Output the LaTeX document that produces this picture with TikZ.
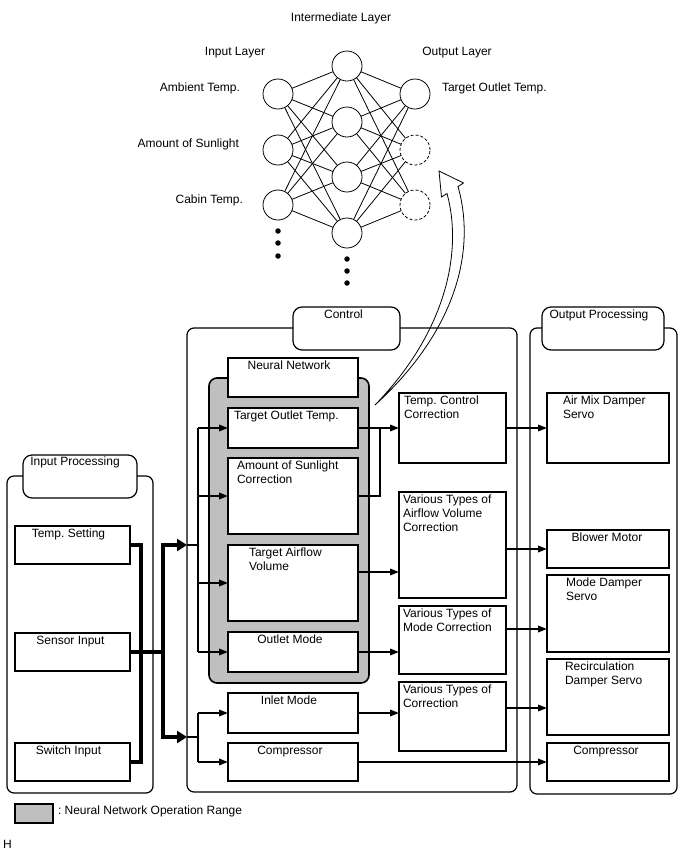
\documentclass[tikz,border=0pt]{standalone}
\usepackage{fontspec}
\setmainfont{Liberation Sans}
\usetikzlibrary{arrows.meta,positioning}
\colorlet{nnRange}{black!25}
\frenchspacing

\begin{document}
\begin{tikzpicture}[
  x=1pt, y=-1pt,
  font=\fontsize{12}{14}\selectfont,
  every node/.style={inner sep=0pt, outer sep=0pt},
  neuron/.style={circle, draw, line width=0.8pt, fill=white, minimum size=30pt},
  dot/.style={circle, fill=black, minimum size=5.5pt},
  panel/.style={draw, line width=1.2pt, rounded corners=7pt, anchor=north west},
  tab/.style={panel, fill=white, rounded corners=9pt},
  blk/.style={draw, line width=1.4pt, fill=white, anchor=north west},
  txt/.style={anchor=north west, align=left},
  ctxt/.style={anchor=north, align=center},
  syn/.style={line width=0.8pt},
  link/.style={line width=1.8pt},
  arr/.style={link, -{Triangle[length=9pt,width=6.5pt]}},
  fat/.style={line width=4pt},
  fatarr/.style={fat, -{Triangle[length=10pt,width=12pt]}},
]
\useasboundingbox (0,0) rectangle (688,852);

% neural network
\node[anchor=base] (t-mid) at (341,21) {Intermediate Layer};
\node[anchor=base] (t-in) at (235,55) {Input Layer};
\node[anchor=base] (t-out) at (457,55) {Output Layer};
\foreach \y [count=\k] in {94,150,205} \node[neuron] (i\k) at (278,\y) {};
\foreach \y [count=\k] in {66,122,177,233} \node[neuron] (h\k) at (347,\y) {};
\node[neuron] (o1) at (415,94) {};
\node[neuron, dash pattern=on 3pt off 2pt] (o2) at (415,150) {};
\node[neuron, dash pattern=on 3pt off 2pt] (o3) at (415,205) {};
\foreach \a in {1,2,3}
  \foreach \b in {1,...,4} \draw[syn] (i\a) -- (h\b);
\foreach \b in {1,...,4}
  \foreach \c in {1,2,3} \draw[syn] (h\b) -- (o\c);
\foreach \y [count=\k] in {231,243,256} \node[dot] (di\k) at (278,\y) {};
\foreach \y [count=\k] in {259,271,283} \node[dot] (dh\k) at (347,\y) {};
\node[anchor=base east] (l-amb) at (240,91) {Ambient Temp.};
\node[anchor=base east] (l-sun) at (239,147) {Amount of Sunlight};
\node[anchor=base east] (l-cab) at (243,203) {Cabin Temp.};
\node[anchor=base west] (l-tot) at (442,91) {Target Outlet Temp.};

% hollow arrow
\draw[line width=0.8pt, fill=white]
  (375,405) .. controls (446,332) and (463,252) .. (447,193.5)
  -- (441.5,197) -- (439,171) -- (463.5,183) -- (458,186.5)
  .. controls (476,250) and (457,330) .. (375,405) -- cycle;

% input processing
\node[panel, minimum width=146pt, minimum height=317pt] (inproc) at (7,476) {};
\node[tab, minimum width=114pt, minimum height=43pt] (intab) at (23,455) {};
\node[ctxt] (intab-t) at ([shift={(-5,2)}]intab.north) {Input Processing};
\node[blk, minimum width=115pt, minimum height=38pt] (tset) at (15,526) {};
\node[ctxt] (tset-t) at ([shift={(-4,3)}]tset.north) {Temp. Setting};
\node[blk, minimum width=115pt, minimum height=38pt] (sens) at (15,633) {};
\node[ctxt] (sens-t) at ([shift={(-2,3)}]sens.north) {Sensor Input};
\node[blk, minimum width=115pt, minimum height=38pt] (swi) at (15,743) {};
\node[ctxt] (swi-t) at ([shift={(-4,3)}]swi.north) {Switch Input};

% control
\node[panel, minimum width=330pt, minimum height=464pt] (ctrl) at (187,328) {};
\node[tab, minimum width=107pt, minimum height=43pt] (ctab) at (293,307) {};
\node[ctxt] (ctab-t) at ([shift={(-3,3)}]ctab.north) {Control};
\node[draw, line width=1.6pt, fill=nnRange, rounded corners=8pt, anchor=north west,
  minimum width=160pt, minimum height=305pt] (nnr) at (209,378) {};
\node[blk, minimum width=130pt, minimum height=39pt] (nnb) at (228,358) {};
\node[ctxt] (nnb-t) at ([shift={(-4,3)}]nnb.north) {Neural Network};
\node[blk, minimum width=130pt, minimum height=40pt] (tot) at (228,408) {};
\node[txt] (tot-t) at ([shift={(6,3)}]tot.north west) {Target Outlet Temp.};
\node[blk, minimum width=130pt, minimum height=76pt] (sun) at (228,458) {};
\node[txt] (sun-t) at ([shift={(9,3)}]sun.north west) {Amount of Sunlight\\Correction};
\node[blk, minimum width=130pt, minimum height=76pt] (air) at (228,545) {};
\node[txt] (air-t) at ([shift={(21,3)}]air.north west) {Target Airflow\\Volume};
\node[blk, minimum width=130pt, minimum height=40pt] (outm) at (228,632) {};
\node[ctxt] (outm-t) at ([shift={(-3,3)}]outm.north) {Outlet Mode};
\node[blk, minimum width=130pt, minimum height=40pt] (inm) at (228,693) {};
\node[ctxt] (inm-t) at ([shift={(-4,3)}]inm.north) {Inlet Mode};
\node[blk, minimum width=130pt, minimum height=38pt] (cmpc) at (228,743) {};
\node[ctxt] (cmpc-t) at ([shift={(-3,3)}]cmpc.north) {Compressor};
\node[blk, minimum width=107pt, minimum height=70pt] (tcc) at (399,393) {};
\node[txt] (tcc-t) at ([shift={(5,3)}]tcc.north west) {Temp. Control\\Correction};
\node[blk, minimum width=107pt, minimum height=106pt] (afc) at (399,492) {};
\node[txt] (afc-t) at ([shift={(4,3)}]afc.north west) {Various Types of\\Airflow Volume\\Correction};
\node[blk, minimum width=107pt, minimum height=68pt] (mdc) at (399,606) {};
\node[txt] (mdc-t) at ([shift={(4,3)}]mdc.north west) {Various Types of\\Mode Correction};
\node[blk, minimum width=107pt, minimum height=69pt] (vtc) at (399,682) {};
\node[txt] (vtc-t) at ([shift={(4,3)}]vtc.north west) {Various Types of\\Correction};

% output processing
\node[panel, minimum width=147pt, minimum height=466pt] (outproc) at (530,328) {};
\node[tab, minimum width=122pt, minimum height=43pt] (otab) at (542,307) {};
\node[ctxt] (otab-t) at ([shift={(-4,3)}]otab.north) {Output Processing};
\node[blk, minimum width=122pt, minimum height=70pt] (amix) at (547,393) {};
\node[txt] (amix-t) at ([shift={(16,3)}]amix.north west) {Air Mix Damper\\Servo};
\node[blk, minimum width=122pt, minimum height=38pt] (blow) at (547,530) {};
\node[ctxt] (blow-t) at ([shift={(-1,3)}]blow.north) {Blower Motor};
\node[blk, minimum width=122pt, minimum height=77pt] (mds) at (547,575) {};
\node[txt] (mds-t) at ([shift={(19,3)}]mds.north west) {Mode Damper\\Servo};
\node[blk, minimum width=122pt, minimum height=76pt] (rec) at (547,659) {};
\node[txt] (rec-t) at ([shift={(18,3)}]rec.north west) {Recirculation\\Damper Servo};
\node[blk, minimum width=122pt, minimum height=38pt] (cmpo) at (547,743) {};
\node[ctxt] (cmpo-t) at ([shift={(-2,3)}]cmpo.north) {Compressor};

% input lines
\coordinate (fj) at (163,652);
\coordinate (busA) at (198,545);
\coordinate (busB) at (198,737);
\draw[fat] (tset.east) -- ++(11,0) |- (swi.east);
\draw[fat] (sens.east) -- (sens.east -| fj);
\draw[fat] (fj |- busA) -- (fj |- busB);
\draw[fatarr] ([xshift=-2pt]fj |- busA) -- (ctrl.west |- busA);
\draw[fatarr] ([xshift=-2pt]fj |- busB) -- (ctrl.west |- busB);
\draw[link] (ctrl.west |- busA) -- (busA);
\draw[link] (ctrl.west |- busB) -- (busB);

% control lines
\draw[link] (busA |- tot.west) -- (busA |- outm.west);
\draw[link] (busB |- inm.west) -- (busB |- cmpc.west);
\foreach \n in {tot,sun,air,outm,inm,cmpc}
  \draw[arr] (busA |- \n.west) -- (\n.west);
\coordinate (tj) at (380,0);
\draw[link] (sun.east) -| (tj |- tot.east);
\draw[arr] (tot.east) -- (tcc.west);
\draw[arr] ([yshift=11pt]air.east) -- ([yshift=11pt]air.east -| afc.west);
\draw[arr] (outm.east) -- (outm.east -| mdc.west);
\draw[arr] (inm.east) -- (inm.east -| vtc.west);
\draw[arr] (cmpc.east) -- (cmpo.west);

% output lines
\draw[arr] (tcc.east) -- (amix.west);
\draw[arr] (blow.west -| afc.east) -- (blow.west);
\draw[arr] ([yshift=11pt]mdc.east) -- ([yshift=11pt]mdc.east -| mds.west);
\draw[arr] ([yshift=8.5pt]vtc.east) -- ([yshift=8.5pt]vtc.east -| rec.west);

% legend
\node[draw, line width=1.2pt, fill=nnRange, minimum width=38pt, minimum height=19pt,
  anchor=north west] (leg) at (15,804) {};
\node[anchor=base west] (leg-t) at (58,814) {: Neural Network Operation Range};
\node[anchor=base west] (hmark) at (3,848) {H};
\end{tikzpicture}
\end{document}
